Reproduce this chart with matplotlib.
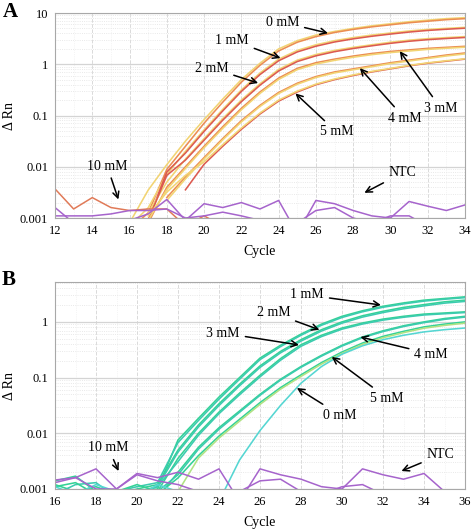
import numpy as np
import matplotlib
matplotlib.use("Agg")
import matplotlib.pyplot as plt
from matplotlib.ticker import FixedLocator, FixedFormatter, LogLocator, NullFormatter, MultipleLocator

plt.rcParams['font.family'] = ['Liberation Serif', 'DejaVu Serif']
nan = np.nan

# ---- panel A data (delta Rn per cycle) ----
cycles_a = list(range(16, 35))
a_0mM_1 = [0.0008, 0.0035, 0.011, 0.0316, 0.0832, 0.209, 0.501, 1.047, 1.995, 2.884, 3.715, 4.365, 5.012, 5.623, 6.166, 6.761, 7.244, 7.762, 8.128]
a_0mM_2 = [0.0006, 0.00126, 0.00891, 0.0251, 0.0708, 0.182, 0.447, 0.955, 1.82, 2.692, 3.467, 4.169, 4.786, 5.37, 5.888, 6.457, 6.918, 7.413, 7.762]
a_1mM_1 = [0.0007, 0.00158, 0.00708, 0.02, 0.0525, 0.132, 0.316, 0.676, 1.259, 1.862, 2.399, 2.884, 3.311, 3.715, 4.074, 4.467, 4.786, 5.012, 5.248]
a_1mM_2 = [nan, 0.0009, 0.0079, 0.0185, 0.049, 0.123, 0.295, 0.63, 1.17, 1.74, 2.25, 2.72, 3.13, 3.52, 3.88, 4.25, 4.57, 4.82, 5.05]
a_2mM_1 = [nan, 0.00126, 0.00501, 0.0141, 0.0355, 0.0871, 0.2, 0.417, 0.794, 1.202, 1.549, 1.862, 2.138, 2.399, 2.692, 2.951, 3.162, 3.311, 3.467]
a_2mM_2 = [nan, 0.0009, 0.0068, 0.0135, 0.033, 0.081, 0.186, 0.39, 0.74, 1.13, 1.46, 1.76, 2.03, 2.29, 2.56, 2.81, 3.02, 3.18, 3.33]
a_3mM_1 = [nan, 0.0008, 0.00398, 0.01, 0.0251, 0.0603, 0.138, 0.288, 0.537, 0.832, 1.072, 1.259, 1.445, 1.622, 1.778, 1.905, 2.042, 2.138, 2.239]
a_3mM_2 = [nan, 0.0009, 0.0036, 0.0093, 0.0235, 0.056, 0.129, 0.27, 0.505, 0.785, 1.01, 1.19, 1.37, 1.54, 1.69, 1.81, 1.95, 2.05, 2.15]
a_4mM_1 = [nan, nan, 0.00251, 0.00631, 0.0151, 0.0355, 0.0794, 0.158, 0.282, 0.427, 0.575, 0.708, 0.813, 0.933, 1.072, 1.202, 1.349, 1.514, 1.66]
a_4mM_2 = [nan, nan, 0.0022, 0.0058, 0.0142, 0.0335, 0.075, 0.15, 0.268, 0.407, 0.55, 0.678, 0.78, 0.895, 1.03, 1.155, 1.295, 1.45, 1.59]
a_5mM_1 = [nan, nan, nan, 0.00355, 0.0112, 0.0251, 0.0537, 0.107, 0.191, 0.288, 0.398, 0.501, 0.603, 0.708, 0.813, 0.933, 1.047, 1.148, 1.259]
a_5mM_2 = [nan, 0.0011, 0.0032, 0.0068, 0.0125, 0.027, 0.057, 0.112, 0.2, 0.3, 0.41, 0.515, 0.62, 0.725, 0.83, 0.95, 1.065, 1.17, 1.28]

cycles_a_base = list(range(12, 35))
a_10mM = [0.0037, 0.0015, 0.0025, 0.0016, 0.0014, 0.0015, 0.0015, 0.0007, 0.0011, 0.0007,
          nan, nan, nan, nan, nan, nan, nan, nan, nan, nan, nan, nan, nan]
a_ntc_1 = [0.0016, 0.0008, 0.0006, 0.0007, 0.0009, 0.0012, 0.0023, 0.0009, 0.0019, 0.0016, 0.002, 0.0015,
           0.0022, 0.0005, 0.0022, 0.0019, 0.0014, 0.0011, 0.001, 0.0021, 0.0017, 0.0014, 0.0018]
a_ntc_2 = [0.0011, 0.0011, 0.0011, 0.0012, 0.0014, 0.0014, 0.0015, 0.001, 0.0011, 0.0013, 0.0011, 0.0009,
           0.0007, 0.0008, 0.0014, 0.0016, 0.001, 0.0008, 0.0011, 0.0011, 0.0007, 0.0008, 0.0009]

# ---- panel B data ----
cycles_b = list(range(16, 37))
b_1mM_1 = [0.0012, 0.0009, 0.0011, 0.0008, 0.0009, 0.001, 0.00759, 0.0186, 0.0447, 0.1, 0.224, 0.38, 0.603, 0.912, 1.259, 1.585, 1.905, 2.188, 2.455, 2.63, 2.818]
b_1mM_2 = [0.0009, 0.0008, 0.0007, 0.0009, 0.0011, 0.0013, 0.0068, 0.017, 0.041, 0.093, 0.21, 0.36, 0.575, 0.87, 1.2, 1.52, 1.83, 2.1, 2.36, 2.55, 2.72]
b_2mM_1 = [0.0014, 0.0017, 0.0009, 0.0008, 0.001, 0.0012, 0.005, 0.0141, 0.0339, 0.0759, 0.162, 0.295, 0.479, 0.724, 1.0, 1.288, 1.549, 1.82, 2.042, 2.291, 2.455]
b_2mM_2 = [0.0008, 0.0012, 0.0013, 0.0007, 0.0009, 0.0011, 0.0046, 0.013, 0.0315, 0.071, 0.152, 0.278, 0.452, 0.685, 0.95, 1.22, 1.47, 1.72, 1.94, 2.17, 2.33]
b_3mM_1 = [0.0011, 0.0013, 0.0008, 0.0009, 0.0012, 0.0009, 0.00355, 0.01, 0.024, 0.0525, 0.11, 0.219, 0.389, 0.575, 0.776, 0.955, 1.122, 1.259, 1.38, 1.445, 1.514]
b_3mM_2 = [nan, nan, nan, nan, 0.0008, 0.0011, 0.0031, 0.0092, 0.0225, 0.049, 0.103, 0.205, 0.365, 0.545, 0.74, 0.915, 1.075, 1.21, 1.33, 1.4, 1.47]
b_4mM_1 = [nan, nan, nan, nan, nan, 0.0007, 0.002, 0.00562, 0.0126, 0.0251, 0.0501, 0.0933, 0.158, 0.251, 0.38, 0.537, 0.692, 0.851, 1.0, 1.148, 1.259]
b_4mM_2 = [nan, nan, nan, nan, nan, 0.0009, 0.0018, 0.0052, 0.0118, 0.0238, 0.048, 0.09, 0.153, 0.243, 0.368, 0.52, 0.67, 0.825, 0.97, 1.11, 1.22]
b_5mM_1 = [nan, nan, nan, nan, nan, 0.0008, 0.00158, 0.00398, 0.00891, 0.0178, 0.0355, 0.0661, 0.112, 0.186, 0.288, 0.417, 0.55, 0.676, 0.813, 0.912, 1.0]
b_5mM_2 = [nan, nan, nan, nan, nan, nan, 0.0009, 0.0036, 0.0082, 0.0165, 0.033, 0.062, 0.105, 0.175, 0.272, 0.395, 0.52, 0.64, 0.77, 0.865, 0.95]
b_0mM_1 = [0.0011, 0.0008, 0.0012, 0.0009, 0.0007, 0.0012, 0.0009, 0.0008, 0.0006, 0.0033, 0.0112, 0.0316, 0.0794, 0.158, 0.263, 0.372, 0.479, 0.575, 0.661, 0.724, 0.776]
b_ntc_1 = [0.00145, 0.0016, 0.0023, 0.001, 0.0019, 0.0016, 0.002, 0.0015, 0.0023, 0.0006, 0.0023, 0.0018, 0.0015, 0.0011, 0.001, 0.0023, 0.0018, 0.0015, 0.0019, 0.0009, 0.0007]
b_ntc_2 = [0.0013, 0.0016, 0.001, 0.001, 0.0018, 0.0014, 0.0012, 0.0009, 0.0008, 0.0009, 0.0014, 0.0015, 0.0009, 0.0008, 0.0011, 0.0012, 0.0008, 0.0007, 0.0008, 0.0008, 0.0007]

yellow, orange, red = '#f2d473', '#eb8d52', '#dc5a50'
purple = '#a664cc'
green, teal, cyan, lime = '#34d296', '#3ccbb0', '#55d6d2', '#b0e283'

curves_a = [(a_0mM_1, yellow), (a_0mM_2, orange), (a_1mM_1, yellow), (a_1mM_2, red),
            (a_2mM_1, yellow), (a_2mM_2, red), (a_3mM_1, orange), (a_3mM_2, yellow),
            (a_4mM_1, orange), (a_4mM_2, yellow), (a_5mM_1, red), (a_5mM_2, yellow)]
curves_b = [(b_1mM_1, green), (b_1mM_2, teal), (b_2mM_1, green), (b_2mM_2, teal),
            (b_3mM_1, green), (b_3mM_2, teal), (b_4mM_1, green), (b_4mM_2, teal),
            (b_5mM_1, green), (b_5mM_2, lime), (b_0mM_1, cyan)]

# (text, text xy, arrow tip xy)
labels_a = [('0 mM', (24.2, 6.6), (26.65, 4.04)), ('1 mM', (21.5, 2.95), (24.1, 1.32)),
            ('2 mM', (20.4, 0.84), (22.9, 0.43)), ('3 mM', (32.7, 0.139), (30.5, 1.8)),
            ('4 mM', (30.75, 0.089), (28.36, 0.84)), ('5 mM', (27.1, 0.048), (24.9, 0.27)),
            ('10 mM', (14.8, 0.0103), (15.4, 0.0023)), ('NTC', (30.65, 0.0076), (28.6, 0.0031))]
labels_b = [('1 mM', (28.3, 3.04), (31.9, 2.01)), ('2 mM', (26.65, 1.45), (28.9, 0.72)),
            ('3 mM', (24.2, 0.63), (27.9, 0.385)), ('4 mM', (34.35, 0.265), (30.9, 0.535)),
            ('5 mM', (32.2, 0.043), (29.5, 0.235)), ('0 mM', (29.9, 0.0213), (27.8, 0.065)),
            ('10 mM', (18.6, 0.0055), (19.1, 0.0021)), ('NTC', (34.8, 0.0041), (32.9, 0.0021))]

fig = plt.figure(figsize=(4.72, 5.31), dpi=100)
axA = fig.add_axes([55/472, 1-218/531, 410/472, 205/531])
axB = fig.add_axes([55/472, 1-489/531, 410/472, 207/531])


def style(ax, xlo, xhi, ytop, yticks, ylabels):
    ax.set_yscale('log')
    ax.set_xlim(xlo, xhi)
    ax.set_ylim(0.001, ytop)
    ax.xaxis.set_major_locator(MultipleLocator(2))
    ax.xaxis.set_minor_locator(MultipleLocator(1))
    ax.yaxis.set_major_locator(FixedLocator(yticks))
    ax.yaxis.set_major_formatter(FixedFormatter(ylabels))
    ax.yaxis.set_minor_locator(LogLocator(base=10, subs=np.arange(2, 10)))
    ax.yaxis.set_minor_formatter(NullFormatter())
    ax.grid(which='major', axis='y', color='#d4d4d4', lw=0.9)
    ax.grid(which='minor', axis='y', color='#e2e2e2', lw=0.6, ls=':')
    ax.grid(which='major', axis='x', color='#dadada', lw=0.7, ls='--')
    ax.grid(which='minor', axis='x', color='#ececec', lw=0.5, ls=':')
    ax.set_axisbelow(True)
    for s in ax.spines.values():
        s.set_color('#a8a8a8')
    ax.tick_params(which='both', length=0, labelsize=9, pad=5)
    ax.set_xlabel('Cycle', fontsize=10)
    ax.set_ylabel('\u0394 Rn', fontsize=10)
    ax.yaxis.set_label_coords(-0.095, 0.5)
    ax.xaxis.set_label_coords(0.5, -0.13)


def annotate(ax, labels):
    for txt, xy_text, xy_tip in labels:
        ax.annotate(txt, xy=xy_tip, xytext=xy_text, ha='center', va='center', fontsize=10,
                    arrowprops=dict(arrowstyle='->', color='black', lw=1.1,
                                    shrinkA=2, shrinkB=0, mutation_scale=11))


style(axA, 12, 34, 10, [0.001, 0.01, 0.1, 1, 10], ['0.001', '0.01', '0.1', '1', '10'])
for vals, col in curves_a:
    axA.plot(cycles_a, vals, color=col, lw=1.15)
axA.plot(cycles_a_base, a_10mM, color='#e07a58', lw=1.1)
axA.plot(cycles_a_base, a_ntc_1, color=purple, lw=1.1)
axA.plot(cycles_a_base, a_ntc_2, color=purple, lw=1.1)
annotate(axA, labels_a)

style(axB, 16, 36, 5.2, [0.001, 0.01, 0.1, 1], ['0.001', '0.01', '0.1', '1'])
for vals, col in curves_b:
    axB.plot(cycles_b, vals, color=col, lw=1.15)
axB.plot(cycles_b, b_ntc_1, color=purple, lw=1.1)
axB.plot(cycles_b, b_ntc_2, color=purple, lw=1.1)
annotate(axB, labels_b)

fig.text(10/472, 1-12/531, 'A', fontsize=15, fontweight='bold', ha='center', va='center')
fig.text(9/472, 1-280/531, 'B', fontsize=15, fontweight='bold', ha='center', va='center')

fig.savefig('out.png', dpi=100)
